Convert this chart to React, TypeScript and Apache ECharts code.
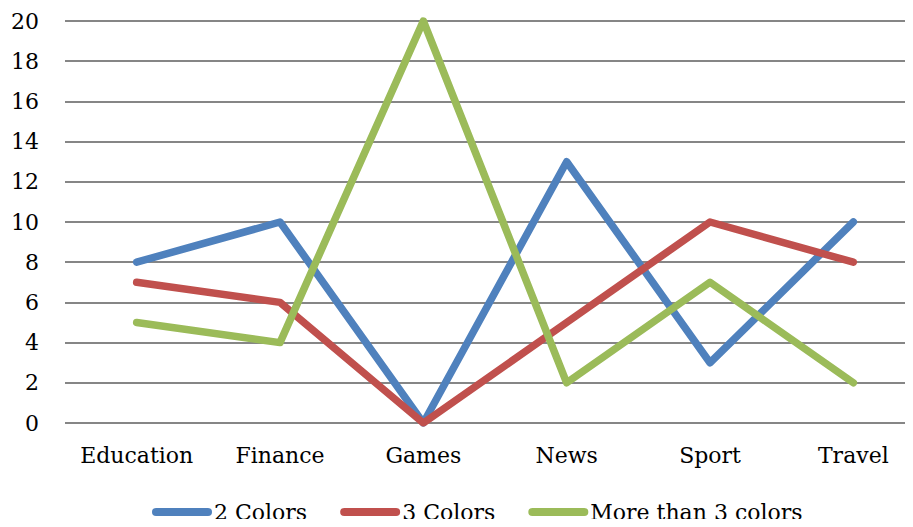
import React, { useEffect, useRef } from "react";
import * as echarts from "echarts";

const categories = ["Education", "Finance", "Games", "News", "Sport", "Travel"];
const twoColors = [8, 10, 0, 13, 3, 10];
const threeColors = [7, 6, 0, 5, 10, 8];
const moreThanThree = [5, 4, 20, 2, 7, 2];
const seriesNames = ["2 Colors", "3 Colors", "More than 3 colors"];
const seriesColors = ["#4F81BD", "#C0504D", "#9BBB59"];

const FONT = "'DejaVu Serif', serif";

// pill-shaped legend marker
const pill = "path://M4,0 H56 A4,4 0 0 1 56,8 H4 A4,4 0 0 1 4,0 Z";

export default function App() {
  const ref = useRef<HTMLDivElement>(null);

  useEffect(() => {
    if (!ref.current) return;
    const chart = echarts.init(ref.current, undefined, { renderer: "svg" });
    const values = [twoColors, threeColors, moreThanThree];
    chart.setOption({
      animation: false,
      textStyle: { fontFamily: FONT },
      // plot area runs a little past the visible right edge
      grid: { left: 65, top: 21, width: 860, height: 402 },
      legend: {
        left: 152,
        top: 501,
        padding: 0,
        itemWidth: 60,
        itemHeight: 8,
        itemGap: 33,
        icon: pill,
        textStyle: { fontFamily: FONT, fontSize: 22, color: "#000", padding: [0, 0, 0, -3] },
        data: seriesNames,
      },
      xAxis: {
        type: "category",
        data: categories,
        boundaryGap: true,
        axisLine: { show: false },
        axisTick: { show: false },
        axisLabel: { interval: 0, fontFamily: FONT, fontSize: 22, color: "#000", margin: 21 },
      },
      yAxis: {
        type: "value",
        min: 0,
        max: 20,
        interval: 2,
        axisLine: { show: false },
        axisTick: { show: false },
        axisLabel: { fontFamily: FONT, fontSize: 22, color: "#000", margin: 26 },
        splitLine: { lineStyle: { color: "#868686", width: 2 } },
      },
      series: values.map((v, i) => ({
        name: seriesNames[i],
        type: "line",
        data: v,
        symbol: "none",
        color: seriesColors[i],
        lineStyle: { width: 7.5, color: seriesColors[i], cap: "round", join: "round" },
      })),
    });
    return () => chart.dispose();
  }, []);

  return (
    <div style={{ width: 913, height: 527, margin: -8, overflow: "hidden" }}>
      <div ref={ref} style={{ width: 940, height: 527 }} />
    </div>
  );
}
